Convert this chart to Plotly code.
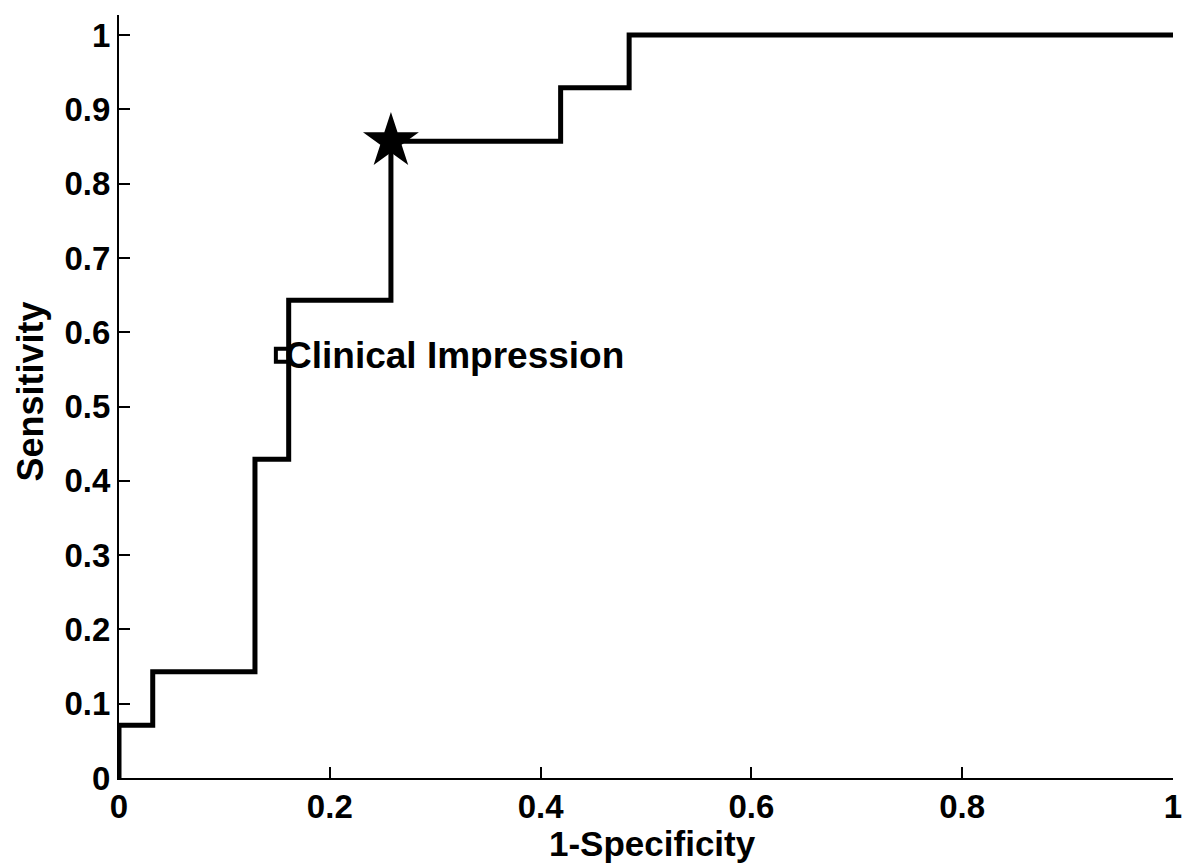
import plotly.graph_objects as go

# ROC step curve vertices (1-Specificity, Sensitivity)
fpr = [0.0, 0.0, 0.032, 0.129, 0.161, 0.258, 0.419, 0.484, 1.0]
tpr = [0.0, 0.071, 0.143, 0.429, 0.643, 0.857, 0.929, 1.0, 1.0]

# Optimal cut-off point (star)
star_x = [0.258]
star_y = [0.857]

# Clinical impression point
clin_x = [0.155]
clin_y = [0.569]
clin_label = "Clinical Impression"

x_title = "1-Specificity"
y_title = "Sensitivity"
x_ticks = [0, 0.2, 0.4, 0.6, 0.8, 1]
x_ticklabels = ["0", "0.2", "0.4", "0.6", "0.8", "1"]
y_ticks = [0, 0.1, 0.2, 0.3, 0.4, 0.5, 0.6, 0.7, 0.8, 0.9, 1]
y_ticklabels = ["0", "0.1", "0.2", "0.3", "0.4", "0.5", "0.6", "0.7", "0.8", "0.9", "1"]

FONT = "Liberation Sans, Arial, sans-serif"

fig = go.Figure()
fig.add_trace(go.Scatter(
    x=fpr, y=tpr, mode="lines", line=dict(color="black", width=5, shape="hv"),
    cliponaxis=False, showlegend=False, hoverinfo="skip"))
fig.add_trace(go.Scatter(
    x=star_x, y=star_y, mode="markers",
    marker=dict(symbol="star", size=42, color="black", line=dict(width=0)),
    cliponaxis=False, showlegend=False))
fig.add_trace(go.Scatter(
    x=clin_x, y=clin_y, mode="markers",
    marker=dict(symbol="square-open", size=13, color="black", line=dict(width=4)),
    cliponaxis=False, showlegend=False))
fig.add_annotation(
    x=clin_x[0], y=clin_y[0], text="<b>" + clin_label + "</b>", showarrow=False,
    xanchor="left", yanchor="middle", xshift=1,
    font=dict(family=FONT, size=37, color="black"))

# axis titles as annotations for exact placement
fig.add_annotation(
    x=0.506, y=-0.0865, xref="paper", yref="paper", text="<b>" + x_title + "</b>",
    showarrow=False, xanchor="center", yanchor="middle",
    font=dict(family=FONT, size=35, color="black"))
fig.add_annotation(
    x=-0.0839, y=0.506, xref="paper", yref="paper", text="<b>" + y_title + "</b>",
    showarrow=False, xanchor="center", yanchor="middle", textangle=-90,
    font=dict(family=FONT, size=36, color="black"))

axis_common = dict(
    showgrid=False, zeroline=False, showline=True, linecolor="black", linewidth=2,
    ticks="inside", ticklen=11, tickwidth=2, tickcolor="black",
    tickfont=dict(family=FONT, size=33, color="black", weight="bold"),
    mirror=False, automargin=False, ticklabeloverflow="allow",
)
fig.update_xaxes(
    range=[0, 1], tickmode="array", tickvals=x_ticks, ticktext=x_ticklabels,
    ticklabelstandoff=-2,
    **axis_common)
fig.update_yaxes(
    range=[0, 1.027], tickmode="array", tickvals=y_ticks, ticktext=y_ticklabels,
    ticklabelstandoff=0,
    **axis_common)

fig.update_layout(
    width=1183, height=865,
    margin=dict(l=119, r=10, t=15, b=87),
    paper_bgcolor="white", plot_bgcolor="white",
    font=dict(family=FONT, color="black"),
)

fig.write_html("out.html", config={"displayModeBar": False},
               post_script="document.body.style.margin='0';")
